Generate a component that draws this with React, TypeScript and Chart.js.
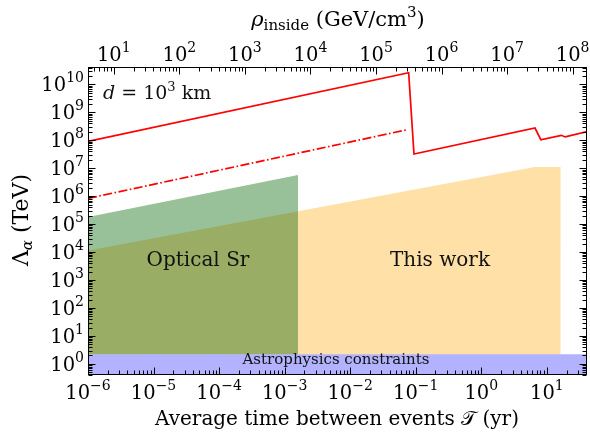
import React, { useEffect, useRef } from 'react';
import { Chart, registerables } from 'chart.js';

Chart.register(...registerables);

// ---- axis ranges ----
const T_MIN = 1e-6;
const T_MAX = 41;
const LAMBDA_MIN = 0.4;
const LAMBDA_MAX = 4.2e10;
const RHO_PER_T = 4.04e6; // rho_inside (GeV/cm^3) per yr of T

// ---- tick labels ----
const tTicks = [1e-6, 1e-5, 1e-4, 1e-3, 1e-2, 1e-1, 1e0, 1e1];
const tTickExp = ['−6', '−5', '−4', '−3', '−2', '−1', '0', '1'];
const lambdaTicks = [1e0, 1e1, 1e2, 1e3, 1e4, 1e5, 1e6, 1e7, 1e8, 1e9, 1e10];
const lambdaTickExp = ['0', '1', '2', '3', '4', '5', '6', '7', '8', '9', '10'];
const rhoTicks = [1e1, 1e2, 1e3, 1e4, 1e5, 1e6, 1e7, 1e8];
const rhoTickExp = ['1', '2', '3', '4', '5', '6', '7', '8'];

// ---- series ----
const boundT = [1e-6, 0.078, 0.094, 6.6, 8.1, 16.6, 19.1, 50];
const boundLambda = [9.1e7, 2.63e10, 3.24e7, 2.75e8, 1.05e8, 1.51e8, 1.32e8, 2.29e8];
const projT = [1e-6, 0.074];
const projLambda = [8.3e5, 2.4e8];
const srT = [1e-6, 1.6e-3];
const srLambda = [1.82e5, 5.75e6];
const workT = [1e-6, 6.6, 16.3];
const workLambda = [1.15e4, 1.1e7, 1.1e7];
const astroT = [1e-6, 50];
const astroLambda = [2.2, 2.2];

const SERIF = '"DejaVu Serif", "Liberation Serif", serif';

type Part = { t: string; f: string; dy?: number };

function drawRich(ctx: CanvasRenderingContext2D, parts: Part[], x: number, y: number, align: 'left' | 'center' | 'right') {
  let w = 0;
  for (const p of parts) {
    ctx.font = p.f;
    w += ctx.measureText(p.t).width;
  }
  let sx = align === 'center' ? x - w / 2 : align === 'right' ? x - w : x;
  ctx.textAlign = 'left';
  ctx.textBaseline = 'alphabetic';
  for (const p of parts) {
    ctx.font = p.f;
    ctx.fillText(p.t, sx, y + (p.dy || 0));
    sx += ctx.measureText(p.t).width;
  }
}

function minorValues(min: number, max: number): { v: number; major: boolean }[] {
  const out: { v: number; major: boolean }[] = [];
  const d0 = Math.floor(Math.log10(min)) - 1;
  const d1 = Math.ceil(Math.log10(max)) + 1;
  for (let d = d0; d <= d1; d++) {
    for (let m = 1; m <= 9; m++) {
      const v = m * Math.pow(10, d);
      if (v >= min * 0.9999 && v <= max * 1.0001) out.push({ v, major: m === 1 });
    }
  }
  return out;
}

const decorPlugin = {
  id: 'decor',
  afterDatasetsDraw(chart: any) {
    const { ctx, chartArea: a, scales } = chart;
    const xs = scales.x, x2 = scales.x2, ys = scales.y;
    ctx.save();
    ctx.fillStyle = '#111';

    // annotations
    const big = `20px ${SERIF}`;
    drawRich(ctx, [{ t: 'Optical Sr', f: big }], 198, 266, 'center');
    drawRich(ctx, [{ t: 'This work', f: big }], 440, 266, 'center');
    drawRich(ctx, [
      { t: 'd', f: `italic 19px ${SERIF}` },
      { t: ' = 10', f: `19px ${SERIF}` },
      { t: '3', f: `13px ${SERIF}`, dy: -8 },
      { t: ' km', f: `19px ${SERIF}` },
    ], 103, 99, 'left');
    drawRich(ctx, [{ t: 'Astrophysics constraints', f: `15px ${SERIF}` }], 336, 364, 'center');

    // frame
    const L = Math.round(a.left) + 0.5, R = Math.round(a.right) - 0.5;
    const Tp = Math.round(a.top) + 0.5, B = Math.round(a.bottom) - 0.5;
    ctx.strokeStyle = '#000';
    ctx.lineWidth = 1;
    ctx.strokeRect(L, Tp, R - L, B - Tp);

    const MAJ = 7, MIN = 4;
    ctx.beginPath();
    for (const { v, major } of minorValues(T_MIN, T_MAX)) {
      const px = Math.round(xs.getPixelForValue(v)) + 0.5;
      const len = major ? MAJ : MIN;
      ctx.moveTo(px, B); ctx.lineTo(px, B - len);
    }
    for (const { v, major } of minorValues(x2.min, x2.max)) {
      const px = Math.round(x2.getPixelForValue(v)) + 0.5;
      const len = major ? MAJ : MIN;
      ctx.moveTo(px, Tp); ctx.lineTo(px, Tp + len);
    }
    for (const { v, major } of minorValues(LAMBDA_MIN, LAMBDA_MAX)) {
      const py = Math.round(ys.getPixelForValue(v)) + 0.5;
      const len = major ? MAJ : MIN;
      ctx.moveTo(L, py); ctx.lineTo(L + len, py);
      ctx.moveTo(R, py); ctx.lineTo(R - len, py);
    }
    ctx.stroke();

    // tick labels
    ctx.fillStyle = '#000';
    const base = `19.5px ${SERIF}`;
    const sup = `14px ${SERIF}`;
    tTicks.forEach((v, i) => {
      const px = xs.getPixelForValue(v);
      drawRich(ctx, [{ t: '10', f: base }, { t: tTickExp[i], f: sup, dy: -9 }], px, 399, 'center');
    });
    rhoTicks.forEach((v, i) => {
      const px = x2.getPixelForValue(v);
      drawRich(ctx, [{ t: '10', f: base }, { t: rhoTickExp[i], f: sup, dy: -9 }], px, 61, 'center');
    });
    lambdaTicks.forEach((v, i) => {
      const py = ys.getPixelForValue(v);
      drawRich(ctx, [{ t: '10', f: base }, { t: lambdaTickExp[i], f: sup, dy: -9 }], 84, py + 7, 'right');
    });

    // axis titles
    const tf = `20px ${SERIF}`;
    drawRich(ctx, [
      { t: 'Average time between events ', f: tf },
      { t: '𝒯', f: `20px "DejaVu Sans", ${SERIF}` },
      { t: ' (yr)', f: tf },
    ], 337, 425, 'center');
    drawRich(ctx, [
      { t: 'ρ', f: `italic 21px ${SERIF}` },
      { t: 'inside', f: `15px ${SERIF}`, dy: 4 },
      { t: ' (GeV/cm', f: `21px ${SERIF}` },
      { t: '3', f: `15px ${SERIF}`, dy: -9 },
      { t: ')', f: `21px ${SERIF}` },
    ], 338, 26, 'center');
    ctx.translate(28, 220);
    ctx.rotate(-Math.PI / 2);
    drawRich(ctx, [
      { t: 'Λ', f: `22px ${SERIF}` },
      { t: 'α', f: `italic 15px ${SERIF}`, dy: 4 },
      { t: ' (TeV)', f: `22px ${SERIF}` },
    ], 0, 0, 'center');
    ctx.restore();
  },
};

const pts = (xs: number[], ys: number[]) => xs.map((x, i) => ({ x, y: ys[i] }));

export default function App() {
  const ref = useRef<HTMLCanvasElement | null>(null);
  useEffect(() => {
    document.body.style.margin = '0';
    if (!ref.current) return;
    const chart = new Chart(ref.current, {
      type: 'line',
      data: {
        datasets: [
          {
            label: 'bound',
            data: pts(boundT, boundLambda),
            borderColor: '#ff0000',
            borderWidth: 1.7,
            pointRadius: 0,
            fill: false,
            tension: 0,
          },
          {
            label: 'projection',
            data: pts(projT, projLambda),
            borderColor: '#ff0000',
            borderWidth: 1.7,
            borderDash: [9, 2.5, 1.6, 2.5],
            pointRadius: 0,
            fill: false,
          },
          {
            label: 'Astrophysics constraints',
            data: pts(astroT, astroLambda),
            borderWidth: 0,
            borderColor: 'rgba(0,0,0,0)',
            backgroundColor: 'rgba(0,0,255,0.3)',
            pointRadius: 0,
            fill: 'start',
          },
          {
            label: 'Optical Sr',
            data: pts(srT, srLambda),
            borderWidth: 0,
            borderColor: 'rgba(0,0,0,0)',
            backgroundColor: 'rgba(0,100,0,0.4)',
            pointRadius: 0,
            fill: { value: 2.2 },
          },
          {
            label: 'This work',
            data: pts(workT, workLambda),
            borderWidth: 0,
            borderColor: 'rgba(0,0,0,0)',
            backgroundColor: 'rgba(255,165,0,0.35)',
            pointRadius: 0,
            fill: { value: 2.2 },
          },
        ],
      },
      options: {
        responsive: false,
        animation: false,
        devicePixelRatio: 1,
        layout: { padding: { left: 88, right: 3, top: 67, bottom: 59 } },
        plugins: { legend: { display: false }, tooltip: { enabled: false } },
        scales: {
          x: { type: 'logarithmic', position: 'bottom', min: T_MIN, max: T_MAX, display: false },
          x2: { type: 'logarithmic', position: 'top', min: T_MIN * RHO_PER_T, max: T_MAX * RHO_PER_T, display: false },
          y: { type: 'logarithmic', min: LAMBDA_MIN, max: LAMBDA_MAX, display: false },
        },
      },
      plugins: [decorPlugin],
    } as any);
    return () => chart.destroy();
  }, []);
  return (
    <div style={{ width: 590, height: 434, background: '#fff' }}>
      <canvas ref={ref} width={590} height={434} style={{ width: 590, height: 434, display: 'block' }} />
    </div>
  );
}
